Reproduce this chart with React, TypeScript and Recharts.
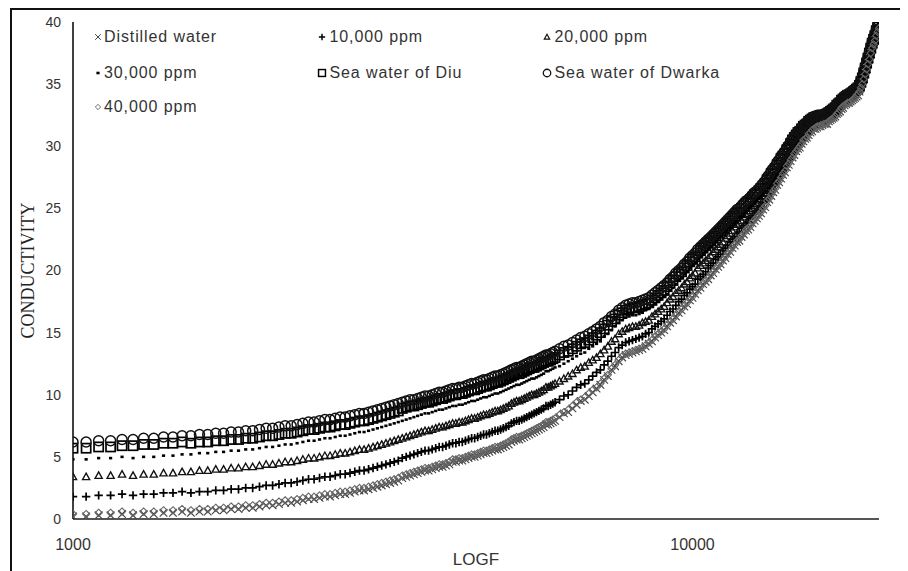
import React from 'react';
import { ScatterChart, Scatter, XAxis, YAxis, Label } from 'recharts';

const FREQ = [
  1000, 1050, 1100, 1150, 1200, 1250, 1300, 1350, 1400, 1450, 1500, 1550, 1600, 1650, 1700, 1750, 1800, 1850, 1900, 1950,
  2000, 2050, 2100, 2150, 2200, 2250, 2300, 2350, 2400, 2450, 2500, 2550, 2600, 2650, 2700, 2750, 2800, 2850, 2900, 2950, 3000,
  3050, 3100, 3150, 3200, 3250, 3300, 3350, 3400, 3450, 3500, 3550, 3600, 3650, 3700, 3750, 3800, 3850, 3900, 3950, 4000,
  4050, 4100, 4150, 4200, 4250, 4300, 4350, 4400, 4450, 4500, 4550, 4600, 4650, 4700, 4750, 4800, 4850, 4900, 4950, 5000,
  5050, 5100, 5150, 5200, 5250, 5300, 5350, 5400, 5450, 5500, 5550, 5600, 5650, 5700, 5750, 5800, 5850, 5900, 5950, 6000,
  6100, 6200, 6300, 6400, 6500, 6600, 6700, 6800, 6900, 7000, 7100, 7200, 7300, 7400, 7500, 7600, 7700, 7800, 7900, 8000,
  8100, 8200, 8300, 8400, 8500, 8600, 8700, 8800, 8900, 9000, 9100, 9200, 9300, 9400, 9500, 9600, 9700, 9800, 9900, 10000,
  10100, 10200, 10300, 10400, 10500, 10600, 10700, 10800, 10900, 11000, 11100, 11200, 11300, 11400, 11500, 11600, 11700, 11800, 11900, 12000,
  12100, 12200, 12300, 12400, 12500, 12600, 12700, 12800, 12900, 13000, 13100, 13200, 13300, 13400, 13500, 13600, 13700, 13800, 13900, 14000,
  14100, 14200, 14300, 14400, 14500, 14600, 14700, 14800, 14900, 15000, 15100, 15200, 15300, 15400, 15500, 15600, 15700, 15800, 15900, 16000,
  16100, 16200, 16300, 16400, 16500, 16600, 16700, 16800, 16900, 17000, 17100, 17200, 17300, 17400, 17500, 17600, 17700, 17800, 17900, 18000,
  18100, 18200, 18300, 18400, 18500, 18600, 18700, 18800, 18900, 19000, 19100, 19200, 19300, 19400, 19500, 19600, 19700, 19800, 19900, 20000,
];

const DISTILLED = [
  0.2, 0.2, 0.3, 0.3, 0.4, 0.3, 0.4, 0.4, 0.5, 0.5, 0.6, 0.5, 0.6, 0.6, 0.7, 0.7, 0.8, 0.8, 0.9, 0.9,
  1.0, 1.1, 1.1, 1.2, 1.3, 1.3, 1.4, 1.5, 1.6, 1.6, 1.7, 1.8, 1.8, 1.9, 2.0, 2.0, 2.1, 2.2, 2.3, 2.3, 2.4,
  2.5, 2.6, 2.7, 2.8, 2.9, 3.0, 3.1, 3.3, 3.4, 3.5,
  3.6, 3.7, 3.8, 3.9, 3.9, 4.0, 4.1, 4.2, 4.2, 4.3,
  4.4, 4.6, 4.6, 4.7, 4.7, 4.8, 4.9, 5.0, 5.0, 5.1,
  5.2, 5.3, 5.3, 5.4, 5.5, 5.6, 5.6, 5.7, 5.8, 5.9,
  6.0, 6.2, 6.3, 6.4, 6.4, 6.5, 6.6, 6.7, 6.8, 6.9,
  7.0, 7.1, 7.2, 7.3, 7.4, 7.6, 7.6, 7.7, 7.8, 7.9,
  8.2, 8.5, 8.6, 8.9, 9.2, 9.5, 9.6, 9.9, 10.2, 10.5,
  10.8, 11.2, 11.5, 12.0, 12.3, 12.7, 13.0, 13.2, 13.3, 13.4,
  13.5, 13.6, 13.7, 13.9, 14.1, 14.3, 14.6, 14.8, 15.0, 15.2,
  15.5, 15.8, 16.0, 16.3, 16.6, 16.8, 17.1, 17.3, 17.6, 17.8,
  18.1, 18.4, 18.6, 18.9, 19.1, 19.3, 19.6, 19.8, 20.1, 20.3,
  20.5, 20.8, 21.0, 21.3, 21.5, 21.8, 22.0, 22.3, 22.4, 22.7,
  22.9, 23.2, 23.3, 23.5, 23.8, 24.0, 24.2, 24.4, 24.6, 24.9,
  25.1, 25.5, 25.7, 26.0, 26.3, 26.5, 26.9, 27.1, 27.4, 27.7,
  27.9, 28.3, 28.5, 28.8, 29.1, 29.3, 29.6, 29.8, 29.9, 30.2,
  30.4, 30.6, 30.7, 30.9, 31.1, 31.2, 31.4, 31.4, 31.5, 31.6,
  31.6, 31.7, 31.8, 31.8, 31.8, 32.0, 32.1, 32.2, 32.3, 32.4,
  32.6, 32.7, 32.8, 33.0, 33.1, 33.3, 33.4, 33.5, 33.5, 33.6,
  33.7, 33.8, 33.9, 34.0, 34.1, 34.4, 34.7, 35.0, 35.4, 35.8,
  36.2, 36.6, 37.0, 37.4, 37.8, 38.2, 38.5, 38.9, 39.2, 39.5,
];

const PPM_10000 = [
  1.8, 1.8, 1.9, 1.9, 2.0, 1.9, 2.0, 2.0, 2.1, 2.1, 2.2, 2.1, 2.2, 2.2, 2.3, 2.3, 2.4, 2.4, 2.5, 2.5,
  2.6, 2.7, 2.7, 2.8, 2.9, 2.9, 3.0, 3.1, 3.2, 3.2, 3.3, 3.4, 3.4, 3.5, 3.6, 3.6, 3.7, 3.8, 3.9, 3.9, 4.0,
  4.1, 4.2, 4.3, 4.4, 4.5, 4.6, 4.7, 4.9, 5.0, 5.1,
  5.2, 5.3, 5.4, 5.5, 5.5, 5.6, 5.7, 5.8, 5.8, 5.9,
  6.0, 6.1, 6.1, 6.2, 6.2, 6.3, 6.4, 6.5, 6.5, 6.6,
  6.7, 6.8, 6.8, 6.9, 7.0, 7.1, 7.1, 7.2, 7.3, 7.4,
  7.5, 7.7, 7.8, 7.9, 7.9, 8.0, 8.1, 8.2, 8.3, 8.4,
  8.5, 8.6, 8.7, 8.8, 8.9, 9.1, 9.1, 9.2, 9.3, 9.4,
  9.6, 9.9, 10.0, 10.3, 10.6, 10.8, 10.9, 11.2, 11.5, 11.8,
  12.0, 12.4, 12.7, 13.1, 13.4, 13.8, 14.0, 14.2, 14.3, 14.4,
  14.5, 14.6, 14.7, 14.9, 15.0, 15.3, 15.5, 15.7, 15.9, 16.1,
  16.4, 16.7, 16.9, 17.2, 17.5, 17.7, 18.0, 18.2, 18.5, 18.7,
  18.9, 19.3, 19.5, 19.7, 19.9, 20.2, 20.4, 20.6, 20.9, 21.1,
  21.3, 21.6, 21.8, 22.0, 22.3, 22.5, 22.7, 23.0, 23.1, 23.4,
  23.6, 23.8, 23.9, 24.2, 24.4, 24.6, 24.8, 25.0, 25.2, 25.5,
  25.7, 26.0, 26.2, 26.6, 26.8, 27.0, 27.4, 27.6, 27.9, 28.1,
  28.4, 28.7, 28.9, 29.3, 29.5, 29.7, 30.0, 30.2, 30.3, 30.5,
  30.8, 30.9, 31.0, 31.3, 31.4, 31.5, 31.7, 31.7, 31.8, 31.8,
  31.9, 31.9, 32.0, 32.0, 32.1, 32.2, 32.3, 32.4, 32.5, 32.6,
  32.8, 32.9, 33.0, 33.2, 33.3, 33.5, 33.6, 33.7, 33.7, 33.8,
  33.9, 34.0, 34.1, 34.2, 34.3, 34.5, 34.8, 35.1, 35.5, 36.0,
  36.4, 36.8, 37.2, 37.6, 38.0, 38.3, 38.6, 39.0, 39.3, 39.6,
];

const PPM_20000 = [
  3.4, 3.4, 3.5, 3.5, 3.6, 3.5, 3.6, 3.6, 3.7, 3.7, 3.8, 3.8, 3.9, 3.9, 4.0, 4.0, 4.1, 4.1, 4.2, 4.2,
  4.3, 4.4, 4.4, 4.5, 4.6, 4.6, 4.7, 4.8, 4.9, 4.9, 5.0, 5.1, 5.1, 5.2, 5.3, 5.3, 5.4, 5.5, 5.6, 5.6, 5.7,
  5.8, 5.9, 6.0, 6.1, 6.2, 6.3, 6.4, 6.5, 6.6, 6.7,
  6.8, 6.9, 7.0, 7.1, 7.1, 7.2, 7.3, 7.4, 7.4, 7.5,
  7.6, 7.7, 7.7, 7.8, 7.8, 7.9, 8.0, 8.1, 8.1, 8.2,
  8.3, 8.4, 8.4, 8.5, 8.6, 8.7, 8.7, 8.8, 8.9, 9.0,
  9.1, 9.3, 9.4, 9.5, 9.5, 9.6, 9.7, 9.8, 9.9, 10.0,
  10.0, 10.1, 10.2, 10.3, 10.4, 10.6, 10.6, 10.7, 10.8, 10.9,
  11.1, 11.3, 11.5, 11.7, 12.0, 12.2, 12.3, 12.6, 12.8, 13.0,
  13.3, 13.6, 13.9, 14.3, 14.5, 14.9, 15.1, 15.3, 15.4, 15.5,
  15.5, 15.6, 15.8, 15.9, 16.0, 16.3, 16.5, 16.7, 16.9, 17.1,
  17.4, 17.7, 17.9, 18.2, 18.4, 18.6, 18.9, 19.1, 19.4, 19.6,
  19.8, 20.2, 20.4, 20.6, 20.8, 21.0, 21.2, 21.5, 21.7, 21.9,
  22.1, 22.3, 22.6, 22.8, 23.0, 23.2, 23.5, 23.7, 23.8, 24.0,
  24.3, 24.5, 24.6, 24.8, 25.0, 25.2, 25.4, 25.6, 25.8, 26.0,
  26.2, 26.6, 26.8, 27.1, 27.3, 27.5, 27.9, 28.1, 28.4, 28.6,
  28.8, 29.2, 29.4, 29.7, 29.9, 30.1, 30.3, 30.5, 30.7, 30.9,
  31.1, 31.2, 31.3, 31.6, 31.7, 31.8, 31.9, 32.0, 32.1, 32.1,
  32.1, 32.1, 32.2, 32.2, 32.3, 32.4, 32.5, 32.6, 32.7, 32.8,
  33.0, 33.1, 33.2, 33.4, 33.5, 33.7, 33.8, 33.9, 33.9, 34.0,
  34.1, 34.2, 34.3, 34.4, 34.5, 34.7, 35.0, 35.3, 35.7, 36.1,
  36.5, 36.9, 37.3, 37.7, 38.1, 38.4, 38.8, 39.2, 39.5, 39.8,
];

const PPM_30000 = [
  4.8, 4.8, 4.9, 4.9, 5.0, 4.9, 5.0, 5.0, 5.1, 5.1, 5.2, 5.2, 5.3, 5.3, 5.4, 5.4, 5.5, 5.5, 5.6, 5.6,
  5.7, 5.8, 5.8, 5.9, 6.0, 6.0, 6.1, 6.2, 6.3, 6.3, 6.4, 6.5, 6.5, 6.6, 6.7, 6.7, 6.8, 6.9, 7.0, 7.0, 7.1,
  7.2, 7.3, 7.4, 7.5, 7.6, 7.7, 7.8, 7.9, 8.0, 8.1,
  8.2, 8.3, 8.4, 8.5, 8.5, 8.6, 8.7, 8.8, 8.8, 8.9,
  9.0, 9.1, 9.1, 9.2, 9.2, 9.3, 9.4, 9.5, 9.5, 9.6,
  9.7, 9.8, 9.8, 9.9, 10.0, 10.1, 10.1, 10.2, 10.3, 10.4,
  10.5, 10.6, 10.7, 10.8, 10.8, 10.9, 11.0, 11.1, 11.2, 11.3,
  11.3, 11.4, 11.5, 11.6, 11.7, 11.9, 11.9, 12.0, 12.1, 12.2,
  12.3, 12.5, 12.7, 12.9, 13.1, 13.3, 13.4, 13.7, 13.9, 14.1,
  14.3, 14.7, 14.9, 15.2, 15.5, 15.8, 16.0, 16.2, 16.3, 16.4,
  16.4, 16.5, 16.6, 16.8, 16.9, 17.1, 17.3, 17.5, 17.7, 17.9,
  18.1, 18.4, 18.6, 18.9, 19.2, 19.4, 19.7, 19.9, 20.2, 20.4,
  20.6, 20.9, 21.1, 21.3, 21.5, 21.7, 21.9, 22.1, 22.4, 22.6,
  22.8, 23.0, 23.2, 23.4, 23.6, 23.8, 24.0, 24.3, 24.4, 24.6,
  24.8, 25.0, 25.1, 25.3, 25.5, 25.7, 25.9, 26.1, 26.3, 26.5,
  26.7, 27.0, 27.2, 27.5, 27.7, 27.9, 28.3, 28.5, 28.8, 29.0,
  29.2, 29.5, 29.7, 30.0, 30.2, 30.4, 30.7, 30.9, 31.0, 31.2,
  31.4, 31.5, 31.6, 31.8, 31.9, 32.0, 32.2, 32.2, 32.3, 32.3,
  32.3, 32.3, 32.4, 32.4, 32.5, 32.6, 32.7, 32.8, 32.9, 33.0,
  33.2, 33.3, 33.4, 33.6, 33.7, 33.8, 33.9, 34.0, 34.0, 34.1,
  34.2, 34.3, 34.4, 34.5, 34.6, 34.8, 35.1, 35.4, 35.8, 36.3,
  36.7, 37.1, 37.5, 37.9, 38.3, 38.6, 38.9, 39.3, 39.6, 39.9,
];

const SEA_DIU = [
  5.7, 5.7, 5.8, 5.8, 5.9, 5.9, 6.0, 6.0, 6.1, 6.1, 6.2, 6.1, 6.2, 6.2, 6.3, 6.3, 6.4, 6.4, 6.5, 6.5,
  6.6, 6.7, 6.7, 6.8, 6.9, 6.9, 7.0, 7.1, 7.2, 7.2, 7.3, 7.4, 7.4, 7.5, 7.6, 7.6, 7.7, 7.8, 7.9, 7.9, 8.0,
  8.1, 8.2, 8.3, 8.4, 8.5, 8.6, 8.7, 8.9, 9.0, 9.1,
  9.1, 9.2, 9.3, 9.4, 9.4, 9.5, 9.6, 9.7, 9.7, 9.8,
  9.9, 10.0, 10.0, 10.1, 10.1, 10.2, 10.3, 10.4, 10.4, 10.5,
  10.6, 10.7, 10.7, 10.8, 10.9, 11.0, 11.0, 11.1, 11.2, 11.3,
  11.4, 11.5, 11.6, 11.7, 11.7, 11.8, 11.9, 12.0, 12.1, 12.2,
  12.2, 12.3, 12.4, 12.5, 12.6, 12.7, 12.7, 12.8, 12.9, 13.0,
  13.2, 13.4, 13.5, 13.7, 13.9, 14.1, 14.2, 14.4, 14.6, 14.8,
  15.0, 15.3, 15.6, 15.9, 16.1, 16.4, 16.6, 16.8, 16.9, 17.0,
  17.0, 17.1, 17.2, 17.3, 17.4, 17.6, 17.8, 18.0, 18.2, 18.4,
  18.7, 19.0, 19.2, 19.5, 19.7, 19.9, 20.2, 20.4, 20.7, 20.9,
  21.1, 21.4, 21.6, 21.8, 22.0, 22.2, 22.4, 22.6, 22.8, 23.0,
  23.2, 23.4, 23.6, 23.8, 24.0, 24.2, 24.4, 24.6, 24.7, 25.0,
  25.2, 25.4, 25.5, 25.7, 25.9, 26.1, 26.2, 26.4, 26.6, 26.8,
  27.0, 27.3, 27.5, 27.8, 28.0, 28.2, 28.5, 28.7, 29.0, 29.2,
  29.4, 29.7, 29.9, 30.2, 30.5, 30.7, 30.9, 31.1, 31.2, 31.4,
  31.6, 31.7, 31.8, 32.0, 32.1, 32.2, 32.3, 32.3, 32.4, 32.4,
  32.4, 32.4, 32.5, 32.5, 32.6, 32.7, 32.8, 32.9, 33.0, 33.1,
  33.3, 33.4, 33.5, 33.7, 33.8, 33.9, 34.0, 34.1, 34.1, 34.2,
  34.3, 34.4, 34.5, 34.6, 34.7, 34.9, 35.2, 35.5, 35.9, 36.3,
  36.7, 37.1, 37.5, 37.9, 38.3, 38.6, 38.9, 39.3, 39.6, 39.9,
];

const SEA_DWARKA = [
  6.2, 6.2, 6.3, 6.3, 6.4, 6.4, 6.5, 6.5, 6.6, 6.6, 6.7, 6.7, 6.8, 6.8, 6.9, 6.9, 7.0, 7.0, 7.1, 7.1,
  7.2, 7.3, 7.3, 7.4, 7.5, 7.5, 7.6, 7.7, 7.8, 7.8, 7.9, 8.0, 8.0, 8.1, 8.2, 8.2, 8.3, 8.4, 8.5, 8.5, 8.6,
  8.7, 8.8, 8.9, 9.0, 9.1, 9.2, 9.3, 9.4, 9.5, 9.6,
  9.6, 9.7, 9.8, 9.9, 9.9, 10.0, 10.1, 10.2, 10.2, 10.3,
  10.4, 10.5, 10.5, 10.6, 10.6, 10.7, 10.8, 10.9, 10.9, 11.0,
  11.1, 11.2, 11.2, 11.3, 11.4, 11.5, 11.5, 11.6, 11.7, 11.8,
  11.9, 12.0, 12.1, 12.2, 12.2, 12.3, 12.4, 12.5, 12.6, 12.7,
  12.7, 12.8, 12.9, 13.0, 13.1, 13.2, 13.2, 13.3, 13.4, 13.5,
  13.7, 13.9, 14.0, 14.2, 14.4, 14.6, 14.7, 14.9, 15.1, 15.3,
  15.5, 15.8, 16.0, 16.3, 16.5, 16.8, 17.0, 17.2, 17.3, 17.4,
  17.4, 17.5, 17.6, 17.7, 17.8, 18.0, 18.2, 18.4, 18.6, 18.8,
  19.0, 19.3, 19.5, 19.8, 20.0, 20.2, 20.5, 20.7, 21.0, 21.2,
  21.4, 21.7, 21.9, 22.1, 22.3, 22.5, 22.7, 22.9, 23.1, 23.3,
  23.5, 23.7, 23.9, 24.1, 24.3, 24.5, 24.7, 24.9, 25.0, 25.2,
  25.4, 25.6, 25.7, 25.9, 26.1, 26.3, 26.4, 26.6, 26.8, 27.0,
  27.2, 27.5, 27.7, 28.0, 28.2, 28.4, 28.7, 28.9, 29.2, 29.4,
  29.6, 29.9, 30.1, 30.4, 30.6, 30.8, 31.0, 31.2, 31.3, 31.5,
  31.7, 31.8, 31.9, 32.1, 32.2, 32.3, 32.4, 32.4, 32.5, 32.5,
  32.5, 32.5, 32.6, 32.6, 32.7, 32.8, 32.9, 33.0, 33.1, 33.2,
  33.4, 33.5, 33.6, 33.8, 33.9, 34.0, 34.1, 34.2, 34.2, 34.3,
  34.4, 34.5, 34.6, 34.7, 34.8, 35.0, 35.3, 35.6, 36.0, 36.4,
  36.8, 37.2, 37.6, 38.0, 38.4, 38.7, 39.0, 39.4, 39.7, 40.0,
];

const PPM_40000 = [
  0.4, 0.4, 0.5, 0.5, 0.6, 0.5, 0.6, 0.6, 0.7, 0.7, 0.8, 0.7, 0.8, 0.8, 0.9, 0.9, 1.0, 1.0, 1.1, 1.1,
  1.2, 1.3, 1.3, 1.4, 1.5, 1.5, 1.6, 1.7, 1.8, 1.8, 1.9, 2.0, 2.0, 2.1, 2.2, 2.2, 2.3, 2.4, 2.5, 2.5, 2.6,
  2.7, 2.8, 2.9, 3.0, 3.1, 3.2, 3.3, 3.5, 3.6, 3.7,
  3.8, 3.9, 4.0, 4.1, 4.1, 4.2, 4.3, 4.4, 4.4, 4.5,
  4.6, 4.8, 4.8, 4.9, 4.9, 5.0, 5.1, 5.2, 5.2, 5.3,
  5.4, 5.5, 5.5, 5.6, 5.7, 5.8, 5.8, 5.9, 6.0, 6.1,
  6.2, 6.4, 6.5, 6.6, 6.6, 6.7, 6.8, 6.9, 7.0, 7.1,
  7.2, 7.3, 7.4, 7.5, 7.6, 7.8, 7.8, 7.9, 8.0, 8.1,
  8.4, 8.6, 8.8, 9.1, 9.4, 9.6, 9.8, 10.1, 10.4, 10.6,
  10.9, 11.3, 11.6, 12.1, 12.4, 12.8, 13.1, 13.3, 13.4, 13.5,
  13.6, 13.7, 13.8, 14.0, 14.2, 14.4, 14.7, 14.9, 15.1, 15.3,
  15.6, 15.9, 16.1, 16.4, 16.7, 16.9, 17.2, 17.4, 17.7, 17.9,
  18.2, 18.5, 18.7, 19.0, 19.2, 19.4, 19.7, 19.9, 20.2, 20.4,
  20.6, 20.9, 21.1, 21.4, 21.6, 21.9, 22.1, 22.4, 22.5, 22.8,
  23.0, 23.3, 23.4, 23.6, 23.9, 24.1, 24.3, 24.5, 24.7, 25.0,
  25.2, 25.6, 25.8, 26.1, 26.4, 26.6, 27.0, 27.2, 27.5, 27.8,
  28.0, 28.4, 28.6, 28.9, 29.1, 29.4, 29.6, 29.8, 30.0, 30.2,
  30.5, 30.6, 30.7, 31.0, 31.1, 31.3, 31.4, 31.5, 31.6, 31.6,
  31.7, 31.7, 31.8, 31.8, 31.9, 32.0, 32.1, 32.2, 32.3, 32.4,
  32.6, 32.7, 32.9, 33.1, 33.2, 33.3, 33.4, 33.5, 33.5, 33.6,
  33.7, 33.8, 33.9, 34.1, 34.2, 34.4, 34.7, 35.0, 35.4, 35.8,
  36.2, 36.6, 37.0, 37.5, 37.9, 38.2, 38.5, 38.9, 39.2, 39.5,
];

const X_TICKS = [1000, 10000];
const Y_TICKS = [0, 5, 10, 15, 20, 25, 30, 35, 40];

const SANS = "'Liberation Sans', Arial, sans-serif";
const SERIF = "'Liberation Serif', 'Times New Roman', serif";

type MarkerKind = 'x' | 'plus' | 'triangle' | 'dot' | 'square' | 'circle' | 'diamond';

function markerSvg(kind: MarkerKind, cx: number, cy: number, small: boolean) {
  const k = small ? 0.75 : 1;
  const w = small ? 0.85 : 1;
  switch (kind) {
    case 'x': {
      const h = 3.8 * k;
      return (
        <path d={`M${cx - h},${cy - h}L${cx + h},${cy + h}M${cx - h},${cy + h}L${cx + h},${cy - h}`} stroke="#444" strokeWidth={1.15 * w} fill="none" />
      );
    }
    case 'plus': {
      const h = 4.2 * k;
      return <path d={`M${cx - h},${cy}L${cx + h},${cy}M${cx},${cy - h}L${cx},${cy + h}`} stroke="#000" strokeWidth={1.7 * w} fill="none" />;
    }
    case 'triangle': {
      const h = 3.6 * k;
      return <path d={`M${cx},${cy - h}L${cx + h},${cy + h * 0.8}L${cx - h},${cy + h * 0.8}Z`} stroke="#111" strokeWidth={1.35 * w} fill="none" />;
    }
    case 'dot': {
      return <rect x={cx - 1.6} y={cy - 1.3} width={3.2} height={2.6} fill="#000" />;
    }
    case 'square': {
      const h = 4.6 * k;
      return <rect x={cx - h} y={cy - h} width={2 * h} height={2 * h} stroke="#000" strokeWidth={1.7 * w} fill="none" />;
    }
    case 'circle': {
      return <circle cx={cx} cy={cy} r={5 * k} stroke="#111" strokeWidth={1.5 * w} fill="none" />;
    }
    case 'diamond':
    default: {
      const h = 3.6 * k;
      return <path d={`M${cx},${cy - h}L${cx + h},${cy}L${cx},${cy + h}L${cx - h},${cy}Z`} stroke="#666" strokeWidth={1.1 * w} fill="none" />;
    }
  }
}

const SERIES: { name: string; values: number[]; marker: MarkerKind }[] = [
  { name: 'Distilled water', values: DISTILLED, marker: 'x' },
  { name: '10,000 ppm', values: PPM_10000, marker: 'plus' },
  { name: '20,000 ppm', values: PPM_20000, marker: 'triangle' },
  { name: '30,000 ppm', values: PPM_30000, marker: 'dot' },
  { name: 'Sea water of Diu', values: SEA_DIU, marker: 'square' },
  { name: 'Sea water of Dwarka', values: SEA_DWARKA, marker: 'circle' },
  { name: '40,000 ppm', values: PPM_40000, marker: 'diamond' },
];

const LEGEND_COLS = [84, 307.5, 532.5];
const LEGEND_ROWS = [19, 54.5, 89];

function LegendOverlay() {
  return (
    <div style={{ position: 'absolute', left: 0, top: 0, width: 890, height: 130, pointerEvents: 'none' }}>
      {SERIES.map((s, i) => {
        const col = i % 3;
        const row = Math.floor(i / 3);
        return (
          <div
            key={s.name}
            style={{
              position: 'absolute',
              left: LEGEND_COLS[col],
              top: LEGEND_ROWS[row],
              height: 20,
              display: 'flex',
              alignItems: 'center',
              whiteSpace: 'nowrap',
            }}
          >
            <svg width={12} height={12} style={{ display: 'block' }}>
              {markerSvg(s.marker, 6, 6, true)}
            </svg>
            <span
              style={{
                marginLeft: col === 0 ? 0 : 2,
                fontFamily: SANS,
                fontSize: 16,
                letterSpacing: 0.9,
                color: '#333',
                lineHeight: '20px',
              }}
            >
              {s.name}
            </span>
          </div>
        );
      })}
    </div>
  );
}

export default function App() {
  const series = SERIES.map((s) => ({
    ...s,
    data: FREQ.map((f, i) => ({ f, v: s.values[i] })),
  }));
  return (
    <div style={{ position: 'relative', width: 898, height: 563 }}>
      <div
        style={{
          position: 'absolute',
          left: 2,
          top: 0,
          right: 0,
          bottom: 0,
          borderTop: '2px solid #111',
          borderLeft: '2px solid #111',
        }}
      />
      <div style={{ position: 'absolute', left: 0, top: 0 }}>
        <ScatterChart width={890} height={560} margin={{ top: 14, right: 19, bottom: 0, left: 0 }}>
          <XAxis
            dataKey="f"
            type="number"
            scale="log"
            domain={[1000, 20000]}
            ticks={X_TICKS}
            allowDataOverflow
            height={49}
            tickLine={false}
            tickSize={0}
            tickMargin={20}
            stroke="#555"
            strokeWidth={2}
            tick={{ fontSize: 16, fill: '#333', fontFamily: SANS }}
          >
            <Label
              content={(p: any) => {
                const vb = p.viewBox;
                return (
                  <text
                    x={vb.x + vb.width / 2}
                    y={vb.y + vb.height - 3}
                    textAnchor="middle"
                    fontFamily={SANS}
                    fontSize={17}
                    fill="#333"
                  >
                    LOGF
                  </text>
                );
              }}
            />
          </XAxis>
          <YAxis
            dataKey="v"
            type="number"
            domain={[0, 40]}
            ticks={Y_TICKS}
            interval={0}
            allowDataOverflow
            width={65}
            tickLine={false}
            tickSize={0}
            tickMargin={12}
            stroke="#000"
            strokeWidth={1.5}
            tick={{ fontSize: 14, fill: '#333', fontFamily: SANS }}
          >
            <Label
              content={(p: any) => {
                const vb = p.viewBox;
                const cx = vb.x + 19.5;
                const cy = vb.y + vb.height / 2;
                return (
                  <text
                    x={cx}
                    y={cy}
                    transform={`rotate(-90 ${cx} ${cy})`}
                    textAnchor="middle"
                    dominantBaseline="central"
                    fontFamily={SERIF}
                    fontSize={18}
                    fill="#222"
                  >
                    CONDUCTIVITY
                  </text>
                );
              }}
            />
          </YAxis>
          {series.map((s) => (
            <Scatter
              key={s.name}
              name={s.name}
              data={s.data}
              isAnimationActive={false}
              shape={(p: any) => markerSvg(s.marker, p.cx, p.cy, false)}
            />
          ))}
        </ScatterChart>
      </div>
      <LegendOverlay />
    </div>
  );
}
